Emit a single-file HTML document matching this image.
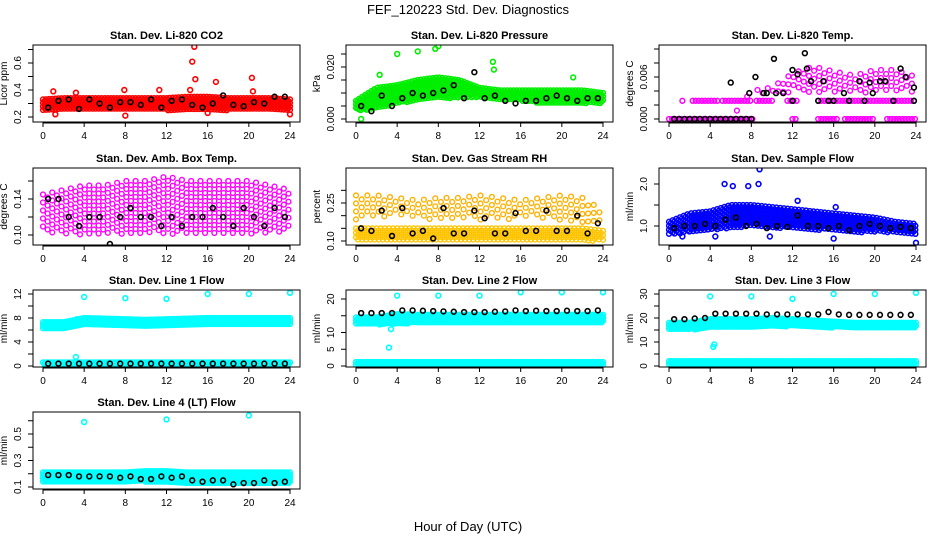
<!DOCTYPE html>
<html><head><meta charset="utf-8">
<style>
html,body{margin:0;padding:0;background:#fff;}
svg{display:block;font-family:"Liberation Sans",sans-serif;}
</style></head>
<body>
<svg id="chart" width="936" height="540" viewBox="0 0 936 540" xmlns="http://www.w3.org/2000/svg">
<text x="468" y="14" font-size="13" text-anchor="middle">FEF_120223  Std. Dev. Diagnostics</text>
<text x="468" y="531" font-size="13" text-anchor="middle">Hour of Day (UTC)</text>
</svg>
<script>
// ---- shared data ----
const hourTicks = [0,4,8,12,16,20,24];
const bandHrs = [0,2,4,6,8,10,12,14,16,18,20,22,24];
const hrs = [0.5,1.5,2.5,3.5,4.5,5.5,6.5,7.5,8.5,9.5,10.5,11.5,12.5,13.5,14.5,15.5,16.5,17.5,18.5,19.5,20.5,21.5,22.5,23.5];

// CO2
const co2Lo = [0.25,0.25,0.25,0.25,0.25,0.25,0.25,0.25,0.25,0.25,0.25,0.25,0.25];
const co2Hi = [0.33,0.34,0.34,0.34,0.34,0.34,0.34,0.35,0.35,0.34,0.34,0.34,0.33];
const co2Black = [0.27,0.32,0.33,0.26,0.33,0.30,0.27,0.31,0.31,0.29,0.33,0.27,0.32,0.33,0.29,0.27,0.30,0.36,0.29,0.28,0.31,0.30,0.35,0.35];
const co2OutH = [1,3.2,7.9,8,11.3,14.3,14.5,14.7,14.8,16.8,20.3,20.4,16,24,1.2];
const co2OutV = [0.39,0.38,0.40,0.21,0.40,0.40,0.61,0.72,0.48,0.46,0.49,0.39,0.23,0.22,0.22];

// Pressure
const prLo = [0.003,0.004,0.006,0.007,0.008,0.008,0.008,0.007,0.007,0.006,0.006,0.006,0.006];
const prHi = [0.007,0.012,0.013,0.015,0.016,0.015,0.012,0.011,0.011,0.011,0.011,0.011,0.010];
const prBlack = [0.005,0.003,0.009,0.005,0.008,0.010,0.009,0.010,0.011,0.013,0.008,0.018,0.008,0.009,0.007,0.006,0.007,0.007,0.008,0.009,0.008,0.007,0.008,0.008];
const prOutH = [4,6,8,13.3,13.4,16,21.1,24,0.5,2.3,7.7];
const prOutV = [0.025,0.026,0.028,0.022,0.019,0.031,0.016,0.034,0.000,0.017,0.027];

// Li-820 temp
const tLo = [0,0,0,0,0.0037,0.0037,0.0037,0.0037,0.0037,0.0037,0.0037,0.0037,0.0037];
const tHi = [0,0,0,0,0.0040,0.0045,0.0065,0.0075,0.0068,0.0062,0.0070,0.0070,0.0060];
const tZeroSegS = [0,12,14.5,17.1,21.2];
const tZeroSegE = [8.3,12.5,16.5,20,24];
const tMidSegS = [1.3,2.3,5.2,8.5,11.5,14.5];
const tMidSegE = [1.5,4.8,8,10.3,12.5,24];
const tBlackH = [0.5,1,1.5,2,2.5,3,3.5,4,4.5,5,5.5,6,6.5,7,7.5,8,6,7.8,8.4,9.2,9.5,10.2,10.4,11.1,12,12,12.5,13.2,13.4,13.8,14.5,15,15.5,16,17,17.5,18.5,19,19.5,19.8,20.5,21,21.8,22.5,23,23.8,23.8];
const tBlackV = [0,0,0,0,0,0,0,0,0,0,0,0,0,0,0,0,0.0052,0.0037,0.0060,0.0037,0.0037,0.0086,0.0037,0.0037,0.0070,0.0026,0.0064,0.0094,0.0072,0.0054,0.0026,0.0054,0.0026,0.0026,0.0037,0.0026,0.0054,0.0026,0.0052,0.0037,0.0054,0.0054,0.0026,0.0072,0.0060,0.0045,0.0026];

// Amb box temp
const abLo = [0.105,0.100,0.100,0.100,0.100,0.100,0.100,0.100,0.100,0.100,0.100,0.100,0.105];
const abHi = [0.145,0.150,0.155,0.155,0.160,0.160,0.165,0.160,0.160,0.160,0.160,0.155,0.150];
const abBlack = [0.14,0.14,0.12,0.11,0.12,0.12,0.09,0.12,0.13,0.12,0.12,0.11,0.12,0.11,0.12,0.12,0.13,0.12,0.11,0.13,0.12,0.11,0.13,0.12];

// Gas stream RH
const rhLo = [0.10,0.10,0.10,0.10,0.10,0.10,0.10,0.10,0.10,0.10,0.10,0.10,0.10];
const rhHi = [0.15,0.15,0.15,0.15,0.15,0.15,0.15,0.15,0.15,0.15,0.15,0.15,0.14];
const rh2Lo = [0.18,0.19,0.20,0.19,0.18,0.19,0.18,0.18,0.19,0.19,0.18,0.17,0.16];
const rh2Hi = [0.28,0.28,0.27,0.26,0.27,0.27,0.28,0.27,0.26,0.27,0.28,0.27,0.22];
const rhBlack = [0.15,0.14,0.22,0.12,0.23,0.13,0.14,0.11,0.23,0.13,0.13,0.22,0.19,0.13,0.13,0.21,0.14,0.14,0.22,0.14,0.14,0.20,0.13,0.17];

// Sample flow
const sfLo = [0.8,0.85,0.9,0.95,1.0,0.95,0.95,0.9,0.9,0.85,0.85,0.85,0.8];
const sfHi = [1.1,1.3,1.35,1.5,1.5,1.45,1.4,1.35,1.3,1.25,1.2,1.1,1.05];
const sfBlack = [0.95,1.0,1.0,1.05,1.0,1.15,1.2,1.0,1.05,0.95,1.0,0.98,1.25,1.0,1.0,0.95,1.0,0.9,1.0,1.05,1.0,0.95,0.98,0.95];
const sfOutH = [5.4,6.2,7.7,8.7,8.8,24,16,1.3,4.5,9.8,16.2,12.5];
const sfOutV = [2.0,1.95,1.95,2.0,2.35,0.6,0.7,0.75,0.75,0.75,1.45,1.6];

// Line 1
const l1Lo = [6.3,6.3,6.8,6.8,6.7,6.6,6.7,6.8,6.9,7.0,7.0,7.0,7.0];
const l1Hi = [7.3,7.3,8.0,7.9,7.8,7.7,7.8,7.9,8.0,8.0,8.0,8.0,8.0];
const l1BotLo = [0.2,0.2,0.2,0.2,0.2,0.2,0.2,0.2,0.2,0.2,0.2,0.2,0.2];
const l1BotHi = [0.6,0.6,0.6,0.6,0.6,0.6,0.6,0.6,0.6,0.6,0.6,0.6,0.6];
const l1Black = [0.4,0.4,0.4,0.4,0.4,0.4,0.4,0.4,0.4,0.4,0.4,0.4,0.4,0.4,0.4,0.4,0.4,0.4,0.4,0.4,0.4,0.4,0.4,0.4];
const l1OutH = [4,8,12,16,20,24,3.2,3.3];
const l1OutV = [11.5,11.3,11.2,12,12,12.2,1.5,7.8];

// Line 2
const l2Lo = [12.3,12.3,12.6,12.8,12.8,12.8,12.8,12.8,12.8,12.8,12.8,12.8,12.8];
const l2Hi = [14.5,14.5,15.5,15.3,15.3,15.3,15.3,15.3,15.3,15.3,15.3,15.3,15.3];
const l2BotLo = [0.3,0.3,0.3,0.3,0.3,0.3,0.3,0.3,0.3,0.3,0.3,0.3,0.3];
const l2BotHi = [1.2,1.2,1.2,1.2,1.2,1.2,1.2,1.2,1.2,1.2,1.2,1.2,1.2];
const l2Black = [15.8,15.8,15.8,15.8,16.6,16.6,16.5,16.4,16.3,16.2,16.1,16.1,16.1,16.2,16.3,16.6,16.4,16.5,16.4,16.4,16.5,16.4,16.4,16.6];
const l2OutH = [4,8,12,16,20,24,3.2,3.4,3.6];
const l2OutV = [21,21,21,22,22,22,5.5,11,13];

// Line 3
const l3Lo = [15,15,16,16,16,16.5,16.5,16,16,16,16,16,16];
const l3Hi = [18,18,19.5,19.5,19.5,20,19.5,19,18.5,18,18,18,18];
const l3BotLo = [0.5,0.5,0.5,0.5,0.5,0.5,0.5,0.5,0.5,0.5,0.5,0.5,0.5];
const l3BotHi = [2,2,2,2,2,2,2,2,2,2,2,2,2];
const l3Black = [19.5,19.5,19.8,20,21.8,21.8,21.8,21.8,21.8,21.5,21.5,21.5,21.5,21.5,21.5,22.5,21.5,21.3,21.3,21.3,21.3,21.3,21.3,21.3];
const l3OutH = [4,8,12,16,20,24,4.3,4.4];
const l3OutV = [29,29,28,30,30,30.5,8,9];

// Line 4
const l4Lo = [0.14,0.14,0.14,0.14,0.14,0.14,0.14,0.13,0.13,0.13,0.13,0.13,0.13];
const l4Hi = [0.21,0.21,0.21,0.21,0.21,0.22,0.22,0.21,0.21,0.21,0.21,0.21,0.21];
const l4Black = [0.19,0.19,0.19,0.18,0.18,0.18,0.18,0.17,0.18,0.16,0.16,0.18,0.17,0.18,0.15,0.14,0.15,0.15,0.12,0.13,0.13,0.15,0.13,0.14];
const l4OutH = [4,12,20];
const l4OutV = [0.59,0.61,0.64];

// ---- drawing ----
const svg = document.getElementById('chart');
const NS = 'http://www.w3.org/2000/svg';
function mk(tag, attrs, parent){
  const e = document.createElementNS(NS, tag);
  for (const k in attrs) e.setAttribute(k, attrs[k]);
  (parent||svg).appendChild(e);
  return e;
}
const colLeft = [33,346,659];
const rowTop = [45,168,290,412];
const W = 267, H = 77;

function panel(col,row,title,ylab,v1,p1,v2,p2,ticks,labels,name){
  const L = colLeft[col], T = rowTop[row];
  const g = mk('g',{});
  
  
  const x = h => L + 10 + h*(247/24);
  const dy = (p2-p1)/(v2-v1);
  const y = v => p1 + (v - v1)*dy;
  const clip = 'clip-'+name;
  const cp = mk('clipPath',{id:clip},g);
  mk('rect',{x:L,y:T,width:W,height:H},cp);
  const plot = mk('g',{'clip-path':'url(#'+clip+')'},g);
  const t = mk('text',{x:L+W/2,y:T-6,'font-size':11,'font-weight':'bold','text-anchor':'middle'},g);
  t.textContent = title;
  
  
  const yl = mk('text',{x:L-26,y:T+H/2,'font-size':10,'text-anchor':'middle',transform:'rotate(-90 '+(L-26)+' '+(T+H/2)+')'},g);
  yl.textContent = ylab;
  
  
  hourTicks.forEach(h=>{
    mk('line',{x1:x(h),x2:x(h),y1:T+H,y2:T+H+5,stroke:'#000'},g);
    const tl = mk('text',{x:x(h),y:T+H+17,'font-size':10,'text-anchor':'middle'},g);
    tl.textContent = h;
    
    
  });
  mk('line',{x1:x(0),x2:x(24),y1:T+H+1,y2:T+H+1,stroke:'#000'},g);
  ticks.forEach(v=>{
    if (y(v) < T-1 || y(v) > T+H+1) return;
    mk('line',{x1:L-5,x2:L,y1:y(v),y2:y(v),stroke:'#000'},g);
  });
  labels.forEach(([v,s])=>{
    const lx = L-12;
    const tl = mk('text',{x:lx,y:y(v),'font-size':10,'text-anchor':'middle',transform:'rotate(-90 '+lx+' '+y(v)+')'},g);
    tl.textContent = s;
    
    
  });
  mk('rect',{x:L,y:T,width:W,height:H,fill:'none',stroke:'#000','stroke-width':1},g);
  return {x,y,plot,g};
}
function interp(arr,h){
  const i = Math.min(11, Math.floor(h/2));
  const f = (h - bandHrs[i])/(bandHrs[i+1]-bandHrs[i]);
  return arr[i] + (arr[i+1]-arr[i])*f;
}
function cloud(P,lo,hi,color,dh,dpx,h0,h1,name,sw){
  const g = mk('g',{},P.plot);
  
  
  let k = 0;
  for (let h=h0; h<=h1+1e-9; h+=dh){
    const yl = P.y(interp(lo,h)), yh = P.y(interp(hi,h));
    const top = Math.min(yl,yh), bot = Math.max(yl,yh);
    const off = (k++%2)*dpx/2;
    for (let py=top+off; py<=bot; py+=dpx){
      mk('circle',{cx:P.x(h),cy:py,r:2.4,fill:'none',stroke:color,'stroke-width':sw||1.5},g);
    }
  }
}
function scatter(P,H,V,color,name){
  const g = mk('g',{},P.plot);
  
  
  H.forEach((h,i)=>{ mk('circle',{cx:P.x(h),cy:P.y(V[i]),r:2.4,fill:'none',stroke:color,'stroke-width':1.6},g); });
}
function segs(P,S,E,v,color,name){
  const g = mk('g',{},P.plot);
  
  
  S.forEach((s,i)=>{ for(let h=s; h<=E[i]; h+=0.3){ mk('circle',{cx:P.x(h),cy:P.y(v),r:2.4,fill:'none',stroke:color,'stroke-width':1.5},g);} });
}

// Panel 1 CO2
let P = panel(0,0,'Stan. Dev. Li-820 CO2','Licor ppm',0.2,117,0.6,63,[0.2,0.3,0.4,0.5,0.6,0.7],[[0.2,'0.2'],[0.4,'0.4'],[0.6,'0.6']],'panel-co2');
cloud(P,co2Lo,co2Hi,'#ff0000',0.15,3.5,0,24,'co2-cloud');
scatter(P,co2OutH,co2OutV,'#ff0000','co2-outliers');
scatter(P,hrs,co2Black,'#000','co2-hourly');

// Panel 2 Pressure
P = panel(1,0,'Stan. Dev. Li-820 Pressure','kPa',0,119,0.020,67,[0,0.005,0.010,0.015,0.020,0.025,0.030],[[0,'0.000'],[0.020,'0.020']],'panel-pressure');
cloud(P,prLo,prHi,'#00ee00',0.15,3.5,0,24,'pressure-cloud');
scatter(P,prOutH,prOutV,'#00ee00','pressure-outliers');
scatter(P,hrs,prBlack,'#000','pressure-hourly');

// Panel 3 Temp
P = panel(2,0,'Stan. Dev. Li-820 Temp.','degrees C',0,119,0.006,77,[0,0.002,0.004,0.006,0.008,0.010],[[0,'0.000'],[0.006,'0.006']],'panel-li820-temp');
segs(P,tZeroSegS,tZeroSegE,0,'#ff00ff','temp-zero-level');
segs(P,tMidSegS,tMidSegE,0.0026,'#ff00ff','temp-mid-level');
cloud(P,tLo,tHi,'#ff00ff',0.5,8,4.6,24,'temp-cloud',1.4);
scatter(P,tBlackH,tBlackV,'#000','temp-hourly');

// Panel 4 Amb box
P = panel(0,1,'Stan. Dev. Amb. Box Temp.','degrees C',0.10,235,0.14,199,[0.10,0.12,0.14,0.16],[[0.10,'0.10'],[0.14,'0.14']],'panel-amb-box');
cloud(P,abLo,abHi,'#ff00ff',0.45,8,0,24,'amb-cloud',1.4);
scatter(P,hrs,abBlack,'#000','amb-hourly');

// Panel 5 RH
P = panel(1,1,'Stan. Dev. Gas Stream RH','percent',0.10,241,0.25,203,[0.10,0.15,0.20,0.25,0.30],[[0.10,'0.10'],[0.25,'0.25']],'panel-rh');
cloud(P,rhLo,rhHi,'#ffc400',0.2,4.5,0,24,'rh-low-cloud',1.4);
cloud(P,rh2Lo,rh2Hi,'#ffb000',0.55,8,0,24,'rh-high-cloud',1.4);
scatter(P,hrs,rhBlack,'#000','rh-hourly');

// Panel 6 Sample flow
P = panel(2,1,'Stan. Dev. Sample Flow','ml/min',1.0,226,2.0,184,[1.0,1.5,2.0],[[1.0,'1.0'],[2.0,'2.0']],'panel-sample-flow');
cloud(P,sfLo,sfHi,'#0000ff',0.18,4,0,24,'sample-cloud');
scatter(P,sfOutH,sfOutV,'#0000ff','sample-outliers');
scatter(P,hrs,sfBlack,'#000','sample-hourly');

// Panel 7 Line 1
P = panel(0,2,'Stan. Dev. Line 1 Flow','ml/min',0,366,12,294,[0,2,4,6,8,10,12],[[0,'0'],[4,'4'],[8,'8'],[12,'12']],'panel-line1');
cloud(P,l1Lo,l1Hi,'#00ffff',0.12,3,0,24,'line1-cloud');
cloud(P,l1BotLo,l1BotHi,'#00ffff',0.12,3,0,24,'line1-low-cloud');
scatter(P,l1OutH,l1OutV,'#00ffff','line1-outliers');
scatter(P,hrs,l1Black,'#000','line1-hourly');

// Panel 8 Line 2
P = panel(1,2,'Stan. Dev. Line 2 Flow','ml/min',0,366,20,299,[0,5,10,15,20],[[0,'0'],[5,'5'],[10,'10'],[20,'20']],'panel-line2');
cloud(P,l2Lo,l2Hi,'#00ffff',0.12,3,0,24,'line2-cloud');
cloud(P,l2BotLo,l2BotHi,'#00ffff',0.12,3,0,24,'line2-low-cloud');
scatter(P,l2OutH,l2OutV,'#00ffff','line2-outliers');
scatter(P,hrs,l2Black,'#000','line2-hourly');

// Panel 9 Line 3
P = panel(2,2,'Stan. Dev. Line 3 Flow','ml/min',0,366,30,294,[0,5,10,15,20,25,30],[[0,'0'],[10,'10'],[20,'20'],[30,'30']],'panel-line3');
cloud(P,l3Lo,l3Hi,'#00ffff',0.12,3,0,24,'line3-cloud');
cloud(P,l3BotLo,l3BotHi,'#00ffff',0.12,3,0,24,'line3-low-cloud');
scatter(P,l3OutH,l3OutV,'#00ffff','line3-outliers');
scatter(P,hrs,l3Black,'#000','line3-hourly');

// Panel 10 Line 4
P = panel(0,3,'Stan. Dev. Line 4 (LT) Flow','ml/min',0.1,487,0.5,434,[0.1,0.2,0.3,0.4,0.5,0.6],[[0.1,'0.1'],[0.3,'0.3'],[0.5,'0.5']],'panel-line4');
cloud(P,l4Lo,l4Hi,'#00ffff',0.12,3,0,24,'line4-cloud');
scatter(P,l4OutH,l4OutV,'#00ffff','line4-outliers');
scatter(P,hrs,l4Black,'#000','line4-hourly');
</script>
</body></html>
